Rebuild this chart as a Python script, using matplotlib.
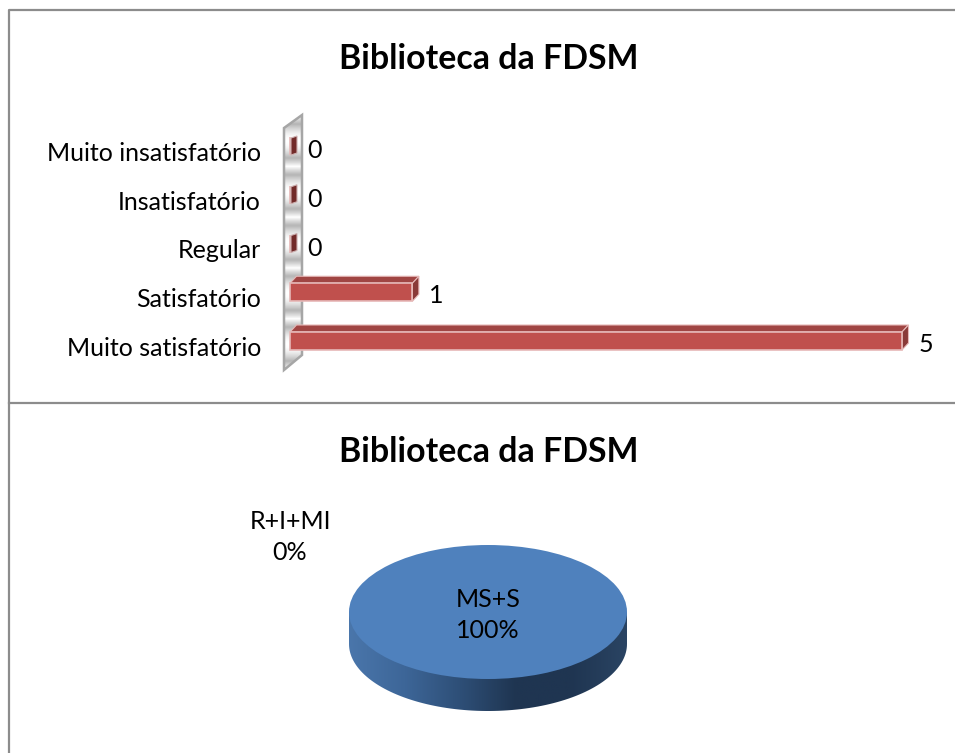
#!/usr/bin/env python
# -*- coding: utf-8 -*-

import numpy as np
import matplotlib as mpl
import matplotlib.pyplot as plt
from matplotlib.colors import LinearSegmentedColormap
from matplotlib.patches import Polygon, PathPatch
from matplotlib.path import Path

mpl.use('agg')

plt.rcParams['font.family'] = ['Lato', 'DejaVu Sans']

W, H = 955, 753

title = 'Biblioteca da FDSM'
categories = ['Muito satisfatório', 'Satisfatório', 'Regular', 'Insatisfatório', 'Muito insatisfatório']
answers = [5, 1, 0, 0, 0]

pie_names = ['MS+S', 'R+I+MI']
pie_values = [100, 0]

FS = 18.0
FS_TITLE = 24.4


def px_axes(left, top, width, height):
    # axes placed with pixel numbers counted from the top left corner
    return fig.add_axes([left / W, 1 - (top + height) / H, width / W, height / H])


fig = plt.figure(figsize=(W / 100, H / 100), dpi=100, facecolor='white')

################################################################################
# frame of the two cells
bg = fig.add_axes([0, 0, 1, 1])
bg.set_xlim(0, W)
bg.set_ylim(H, 0)
bg.axis('off')
bg.plot([955, 8.5, 8.5], [10, 10, 753], color='#8c8c8c', lw=1.6)
bg.plot([8.5, 955], [403, 403], color='#8c8c8c', lw=1.6)

################################################################################
# bars, one x unit is 122.4 px and one category is 48.75 px
ux = 122.4
uy = 48.75
ax = px_axes(270, 105, 650, 280)
xlim = (-20 / ux, (650 - 20) / ux)
ylim = (-(385 - 341) / uy, (341 - 105) / uy)
ax.set_xlim(*xlim)
ax.set_ylim(*ylim)
ax.axis('off')

dx = 6.5 / ux
dy = 7 / uy
bar_h = 18 / uy

# back wall
wall_l, wall_r = -6 / ux, 12 / ux
wall_pts = [(wall_l, (341 - 370) / uy), (wall_l, (341 - 128) / uy),
            (wall_r, (341 - 115) / uy), (wall_r, (341 - 355) / uy)]
stripes = LinearSegmentedColormap.from_list('wall', ['#ffffff', '#b4b4b4', '#ffffff'])
gy = np.abs(np.sin(np.linspace(0, 5 * np.pi, 240)))[:, None]
im = ax.imshow(gy, extent=(wall_l, wall_r, wall_pts[0][1], wall_pts[2][1]), aspect='auto',
               cmap=stripes, zorder=1)
wall = Polygon(wall_pts, closed=True, fc='none', ec='#a6a6a6', lw=1.8, zorder=2)
ax.add_patch(wall)
im.set_clip_path(wall)
ax.set_xlim(*xlim)
ax.set_ylim(*ylim)

ypos = np.arange(len(categories))
bars = ax.barh(ypos, answers, height=bar_h, color='#c0504d', edgecolor='#e6b8b7', lw=1.2, zorder=4)
for bar, v in zip(bars, answers):
    x1 = bar.get_width()
    y0 = bar.get_y()
    y1 = y0 + bar.get_height()
    yc = y0 + bar_h / 2
    if v == 0:
        # an empty bar only shows its slanted end
        ax.add_patch(Polygon([(1 / ux, y0), (1 / ux, y1 - 1 / uy), (7 / ux, y1 + 1 / uy), (7 / ux, y0 + 2 / uy)],
                             fc='#722b2a', ec='#cdb0b0', lw=0.8, zorder=5))
        ax.text(17 / ux, yc - 5 / uy, str(v), va='center', ha='left', fontsize=FS)
        continue
    ax.add_patch(Polygon([(0, y1), (dx, y1 + dy), (x1 + dx, y1 + dy), (x1, y1)], fc='#a04543', ec='#e6b8b7', lw=0.8, zorder=3))
    ax.add_patch(Polygon([(x1, y0), (x1, y1), (x1 + dx, y1 + dy), (x1 + dx, y0 + dy)], fc='#8a3a38', ec='#e6b8b7', lw=0.8, zorder=3))
    ax.text(x1 + 17 / ux, yc - 3 / uy, str(v), va='center', ha='left', fontsize=FS)

for y, name in zip(ypos, categories):
    ax.text(-29 / ux, y - 7.5 / uy, name, va='center', ha='right', fontsize=FS)

bg.text(488.5, 59, title, ha='center', va='center', fontsize=FS_TITLE, fontweight='bold')
bg.text(488.5, 452, title, ha='center', va='center', fontsize=FS_TITLE, fontweight='bold')

################################################################################
# pie
pa = px_axes(488 - 1.25 * 139, 612 - 1.6 * 67, 2.5 * 139, 3.2 * 67)
wedges, _ = pa.pie(pie_values, colors=['#4f81bd', '#c0504d'], startangle=90,
                   wedgeprops={'linewidth': 0})
pa.set_aspect('auto')
pa.set_xlim(-1.25, 1.25)
pa.set_ylim(-1.6, 1.6)
for w in wedges:
    w.set_zorder(3)

depth = 32 / 67.0
t = np.linspace(np.pi, 2 * np.pi, 100)
verts = np.r_[np.c_[np.cos(t), np.sin(t) - depth], [[1, 0], [-1, 0], [-1, -depth]]]
side = PathPatch(Path(verts), fc='none', ec='none', transform=pa.transData)
pa.add_patch(side)
shade = LinearSegmentedColormap.from_list('side', ['#4a76ab', '#3d6698', '#2e4f77', '#1f3551', '#1f3551', '#2a4463'])
im2 = pa.imshow(np.linspace(0, 1, 256)[None, :], extent=(-1, 1, -1 - depth, 0), aspect='auto', cmap=shade, zorder=2)
im2.set_clip_path(side)
pa.set_xlim(-1.25, 1.25)
pa.set_ylim(-1.6, 1.6)

bg.text(488, 615, '%s\n%d%%' % (pie_names[0], pie_values[0]), ha='center', va='center', fontsize=FS, zorder=10, linespacing=1.38)
bg.text(290, 537, '%s\n%d%%' % (pie_names[1], pie_values[1]), ha='center', va='center', fontsize=FS, linespacing=1.38)
bg.set_zorder(5)
bg.patch.set_alpha(0)

plt.savefig('out.png', dpi=100)
